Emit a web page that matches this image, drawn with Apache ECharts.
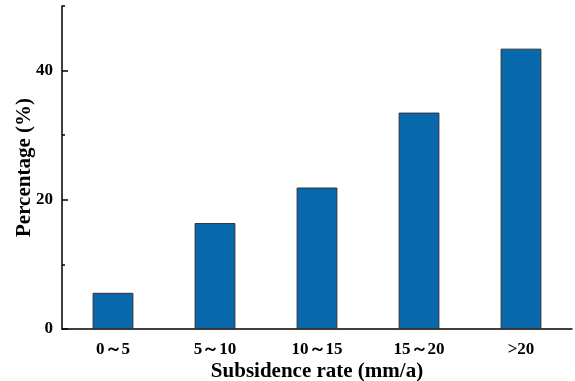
<!DOCTYPE html>
<html>
<head>
<meta charset="utf-8">
<script src="https://cdn.jsdelivr.net/npm/echarts@6/dist/echarts.min.js"></script>
<style>
  html, body { margin: 0; padding: 0; background: #fff; }
  #chart { width: 575px; height: 381px; }
</style>
</head>
<body>
<div id="chart"></div>
<script>
const categories = ["0～5", "5～10", "10～15", "15～20", ">20"];
const percentages = [5.6, 16.4, 21.9, 33.5, 43.4];
const yTicks = [0, 20, 40];
const yMinorTicks = [10, 30, 50];

const FONT = "'Liberation Serif', 'Times New Roman', serif";
const INK = "#000";

const chart = echarts.init(document.getElementById("chart"));

chart.setOption({
    animation: false,
    backgroundColor: "#fff",
    grid: { left: 62, right: 3, top: 6, bottom: 52, outerBoundsMode: "none" },
    xAxis: [
        {
            type: "category",
            data: categories,
            name: "Subsidence rate (mm/a)",
            nameLocation: "middle",
            nameGap: 32,
            nameMoveOverlap: false,
            nameTextStyle: { fontFamily: FONT, fontWeight: "bold", fontSize: 21, color: INK },
            axisLine: { lineStyle: { color: INK, width: 1.5 } },
            axisTick: { alignWithLabel: true, length: 6, lineStyle: { color: INK, width: 1.5 } },
            axisLabel: { fontFamily: FONT, fontWeight: "bold", fontSize: 17, color: INK, margin: 12 }
        },
        {
            // minor ticks on the category boundaries
            type: "category",
            data: categories,
            position: "bottom",
            axisLine: { show: false },
            axisTick: { length: 3, lineStyle: { color: INK, width: 1.5 } },
            axisLabel: { show: false }
        }
    ],
    yAxis: [
        {
            type: "value",
            min: 0,
            max: 50,
            name: "Percentage (%)",
            nameLocation: "middle",
            nameGap: 27,
            nameMoveOverlap: false,
            nameRotate: 90,
            nameTextStyle: { fontFamily: FONT, fontWeight: "bold", fontSize: 21, color: INK },
            axisLine: { show: true, lineStyle: { color: INK, width: 1.5 } },
            axisTick: { show: true, inside: true, length: 6, customValues: yTicks, lineStyle: { color: INK, width: 1.5 } },
            axisLabel: { customValues: yTicks, fontFamily: FONT, fontWeight: "bold", fontSize: 17, color: INK, margin: 9 },
            splitLine: { show: false }
        },
        {
            type: "value",
            min: 0,
            max: 50,
            position: "left",
            axisLine: { show: false },
            axisTick: { show: true, inside: true, length: 3, customValues: yMinorTicks, lineStyle: { color: INK, width: 1.5 } },
            axisLabel: { show: false },
            splitLine: { show: false }
        }
    ],
    series: [
        {
            type: "bar",
            data: percentages,
            barWidth: "40%",
            itemStyle: { color: "#0868ac", borderColor: "#333", borderWidth: 1 }
        }
    ]
});
</script>
</body>
</html>
